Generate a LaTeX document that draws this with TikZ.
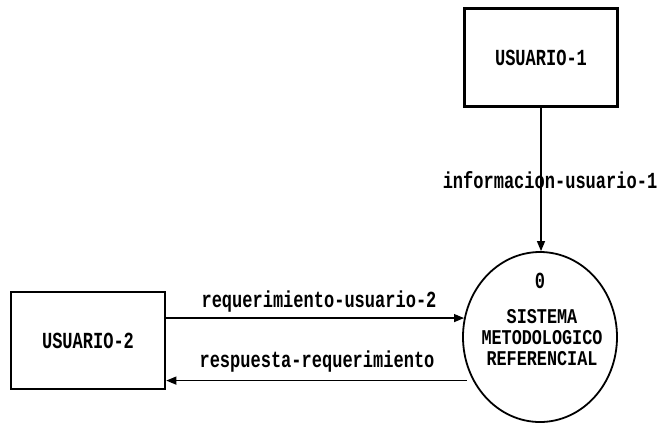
\documentclass[tikz,border=0pt]{standalone}
\usepackage{fontspec}
\setmainfont{Liberation Mono}[FakeStretch=0.74]
\newfontfamily\procfont{Liberation Mono}[FakeStretch=0.8]
\usetikzlibrary{shapes.geometric,arrows.meta}
\tikzset{
  dfdtext/.style={font=\fontsize{23}{19.5}\selectfont\bfseries, inner sep=0pt},
  proctext/.style={font=\procfont\fontsize{21}{21}\selectfont\bfseries, inner sep=0pt},
  entity/.style={draw, line width=2.6pt, inner sep=0pt, minimum width=153pt, minimum height=98pt, dfdtext},
  process/.style={draw, ellipse, line width=1.8pt, inner sep=0pt, minimum width=154pt, minimum height=170pt},
  flow/.style={line width=1.3pt, -{Triangle[length=10pt,width=8pt]}},
  flowlabel/.style={dfdtext}
}
\begin{document}
\begin{tikzpicture}[x=1pt,y=-1pt]
\useasboundingbox (0,0) rectangle (661,429);
\node[entity] (u1) at (541,57.5) {USUARIO-1};
\node[entity, minimum width=154pt, minimum height=97pt] (u2) at (88,340.5) {USUARIO-2};
\node[process] (sys) at (540,337) {};
\node[dfdtext] (num) at (540,281) {0};
\node[proctext, align=center] (name) at (542,338) {SISTEMA\\METODOLOGICO\\REFERENCIAL};
\draw[flow] (u1.south) -- (u1.south |- sys.north);
\node[flowlabel] (l1) at (550,180) {informacion-usuario-1};
\draw[flow] (sys.166.5 -| u2.east) -- (sys.166.5);
\node[flowlabel] (l2) at (319,302) {requerimiento-usuario-2};
\coordinate (r0) at ([xshift=-6pt]sys.213);
\draw[flow] (r0) -- (r0 -| u2.east);
\node[flowlabel] (l3) at (317,362) {respuesta-requerimiento};
\end{tikzpicture}
\end{document}
